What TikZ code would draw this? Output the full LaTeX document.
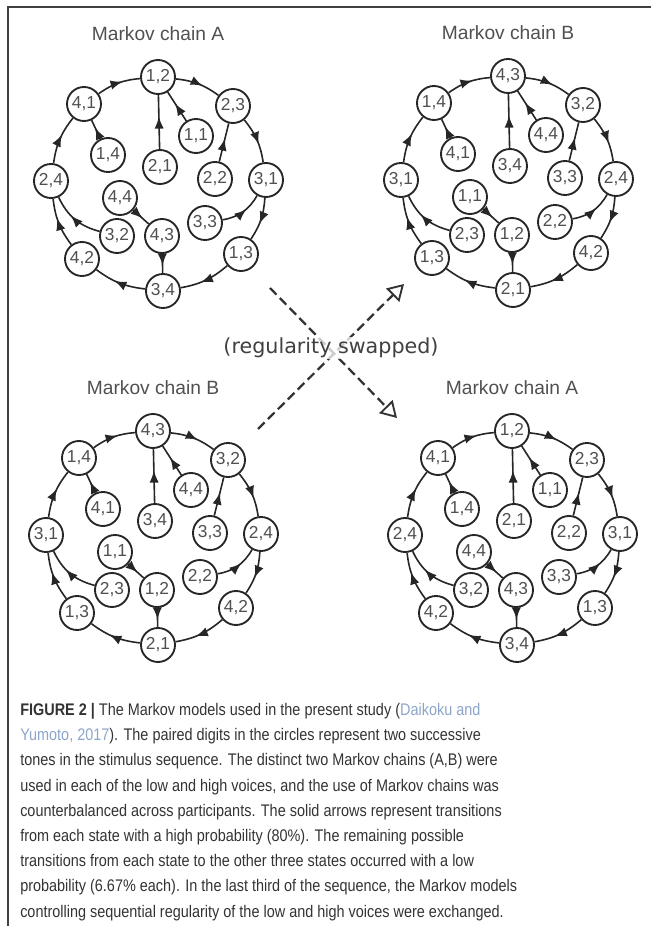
\documentclass[tikz,border=0pt]{standalone}
\usepackage{fontspec}
\setmainfont{Liberation Sans}
\newfontfamily\capfont[FakeStretch=0.86]{Liberation Sans}
\newfontfamily\swapfont{DejaVu Sans}
\usepackage{xcolor}
\usepackage{tikz}
\usetikzlibrary{arrows.meta, decorations.markings}
\definecolor{mygray}{HTML}{505050}
\definecolor{mytext}{HTML}{333333}
\definecolor{mylink}{HTML}{8CA5C8}
\tikzstyle{state} = [circle, draw=black!85, line width=1.4pt, minimum size=25.5pt, inner sep=0pt, fill=white, text=mygray, font=\fontsize{13}{13}\selectfont]
\tikzstyle{title} = [text=mygray, font=\fontsize{14.4}{16}\selectfont]
\tikzstyle{trans} = [line width=1.2pt, draw=black!85, postaction={decorate}, decoration={markings, mark=at position 0.6 with {\arrow{Latex[length=9pt,width=7pt]}}}]
\tikzstyle{swap} = [line width=1.7pt, draw=black!80, dash pattern=on 7pt off 3.5pt, -{Triangle[open, length=12pt, width=14pt, line width=1.4pt]}]
% one chain: #1 name, #2 centre, #3..#6 the tones that play 1..4, #7 title
\newcommand{\markovchain}[7]{%
\begin{scope}[shift={#2}]
    \node[title] (#1title) at (0,150) {#7};
    \node[state] (#1s12) at (0,107) {#3,#4};
    \node[state] (#1s23) at (75,78) {#4,#5};
    \node[state] (#1s31) at (108,4) {#5,#3};
    \node[state] (#1s13) at (83,-70) {#3,#5};
    \node[state] (#1s34) at (5,-107) {#5,#6};
    \node[state] (#1s42) at (-76,-75) {#6,#4};
    \node[state] (#1s24) at (-107,3) {#4,#6};
    \node[state] (#1s41) at (-74,80) {#6,#3};
    \node[state] (#1s11) at (38,48) {#3,#3};
    \node[state] (#1s21) at (2,17) {#4,#3};
    \node[state] (#1s14) at (-50,29) {#3,#6};
    \node[state] (#1s22) at (57,5) {#4,#4};
    \node[state] (#1s44) at (-38,-14) {#6,#6};
    \node[state] (#1s33) at (47,-39) {#5,#5};
    \node[state] (#1s32) at (-41,-52) {#5,#4};
    \node[state] (#1s43) at (4,-52) {#6,#5};
    % outer cycle
    \draw[trans] (#1s12) to[bend left=15] (#1s23);
    \draw[trans] (#1s23) to[bend left=15] (#1s31);
    \draw[trans] (#1s31) to[bend left=15] (#1s13);
    \draw[trans] (#1s13) to[bend left=15] (#1s34);
    \draw[trans] (#1s34) to[bend left=15] (#1s42);
    \draw[trans] (#1s42) to[bend left=15] (#1s24);
    \draw[trans] (#1s24) to[bend left=15] (#1s41);
    \draw[trans] (#1s41) to[bend left=15] (#1s12);
    % inner states
    \draw[trans] (#1s11) -- (#1s12);
    \draw[trans] (#1s21) -- (#1s12);
    \draw[trans] (#1s14) -- (#1s41);
    \draw[trans] (#1s22) -- (#1s23);
    \draw[trans] (#1s44) -- (#1s43);
    \draw[trans] (#1s43) -- (#1s34);
    \draw[trans] (#1s33) to[bend right=25] (#1s31);
    \draw[trans] (#1s32) to[bend left=25] (#1s24);
\end{scope}}

\begin{document}
\begin{tikzpicture}[x=0.75pt, y=0.75pt]
    \useasboundingbox (0,0) rectangle (651,926);
    \draw[line width=1.5pt, black!75] (8,0) -- (8,919) -- (651,919);

    \markovchain{ta}{(158,742)}{1}{2}{3}{4}{Markov chain A}
    \markovchain{tb}{(508,743)}{4}{3}{2}{1}{Markov chain B}
    \markovchain{bb}{(153,388)}{4}{3}{2}{1}{Markov chain B}
    \markovchain{ba}{(512,388)}{1}{2}{3}{4}{Markov chain A}

    % regularity swap
    \coordinate (swapa) at (270,638);
    \coordinate (swapA) at (397,508);
    \coordinate (swapb) at (258,497);
    \coordinate (swapB) at (404,642);
    \draw[swap] (swapa) -- (swapA);
    \draw[swap] (swapb) -- (swapB);
    \node[font=\swapfont\fontsize{15.5}{16}\selectfont, text=black!75, fill=white, fill opacity=0.75, text opacity=1, inner sep=1pt] (swaplbl) at (331,578) {(regularity swapped)};

    \node[anchor=north west, inner sep=0pt, align=left, text=mytext, font=\capfont\fontsize{12.6}{18.9}\selectfont] (caption) at (20,223)
        {\textbf{FIGURE 2} \textbf{|} The Markov models used in the present study ({\color{mylink}Daikoku and}\\
         {\color{mylink}Yumoto, 2017}). The paired digits in the circles represent two successive\\
         tones in the stimulus sequence. The distinct two Markov chains (A,B) were\\
         used in each of the low and high voices, and the use of Markov chains was\\
         counterbalanced across participants. The solid arrows represent transitions\\
         from each state with a high probability (80\%). The remaining possible\\
         transitions from each state to the other three states occurred with a low\\
         probability (6.67\% each). In the last third of the sequence, the Markov models\\
         controlling sequential regularity of the low and high voices were exchanged.};
\end{tikzpicture}
\end{document}
